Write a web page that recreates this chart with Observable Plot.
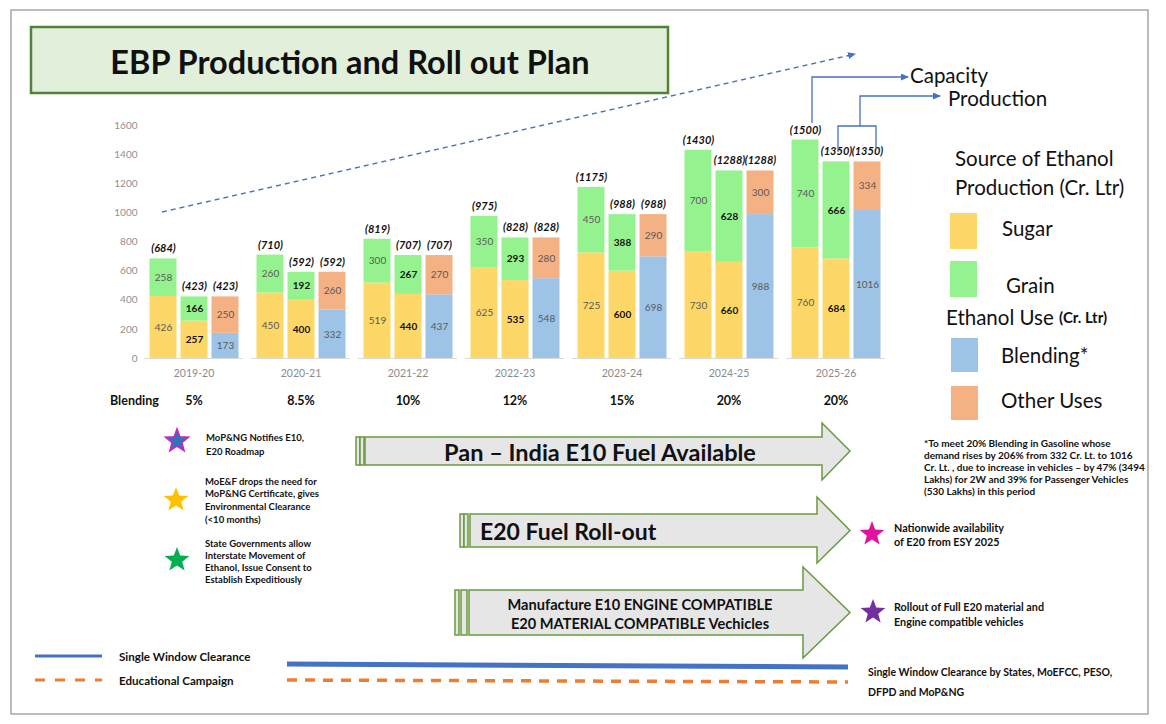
<!DOCTYPE html>
<html><head><meta charset="utf-8">
<script src="https://cdn.jsdelivr.net/npm/d3@7"></script>
<script src="https://cdn.jsdelivr.net/npm/@observablehq/plot@0.6"></script>
<style>
body{margin:0;background:#fff;}
#wrap{position:relative;width:1166px;height:724px;overflow:hidden;font-family:Lato,"Open Sans",sans-serif;background:#fff;}
#chart{position:absolute;left:0;top:0;}
#over{position:absolute;left:0;top:0;pointer-events:none;}
</style></head>
<body><div id="wrap"><div id="chart"></div><svg id="over" width="1166" height="724"></svg></div>
<script>
// ---------- data ----------
const years = ["2019-20","2020-21","2021-22","2022-23","2023-24","2024-25","2025-26"];
const capacitySugar   = [426, 450, 519, 625, 725, 730, 760];
const capacityGrain   = [258, 260, 300, 350, 450, 700, 740];
const productionSugar = [257, 400, 440, 535, 600, 660, 684];
const productionGrain = [166, 192, 267, 293, 388, 628, 666];
const useBlending     = [173, 332, 437, 548, 698, 988, 1016];
const useOther        = [250, 260, 270, 280, 290, 300, 334];
const blendingTarget  = ["5%","8.5%","10%","12%","15%","20%","20%"];
const yTicks = [0, 200, 400, 600, 800, 1000, 1200, 1400, 1600];
const parts = ["Sugar","Grain","Blending","Other Uses"];
const partColors = ["#FDD767","#95F38F","#9DC3E6","#F4B183"];
const barKinds = ["capacity","production","use"];

const rows = [];
const totals = [];
years.forEach((yr, i) => {
  rows.push({year: yr, bar: "capacity", part: "Sugar", value: capacitySugar[i]});
  rows.push({year: yr, bar: "capacity", part: "Grain", value: capacityGrain[i]});
  rows.push({year: yr, bar: "production", part: "Sugar", value: productionSugar[i]});
  rows.push({year: yr, bar: "production", part: "Grain", value: productionGrain[i]});
  rows.push({year: yr, bar: "use", part: "Blending", value: useBlending[i]});
  rows.push({year: yr, bar: "use", part: "Other Uses", value: useOther[i]});
  totals.push({year: yr, bar: "capacity", total: capacitySugar[i] + capacityGrain[i]});
  totals.push({year: yr, bar: "production", total: productionSugar[i] + productionGrain[i]});
  totals.push({year: yr, bar: "use", total: useBlending[i] + useOther[i]});
});
const pctRows = years.map((yr, i) => ({year: yr, pct: blendingTarget[i]}));

// ---------- chart ----------
const chart = Plot.plot({
  width: 920, height: 410,
  marginLeft: 143.5, marginRight: 34, marginTop: 125, marginBottom: 52,
  style: {fontFamily: "Lato, sans-serif", background: "transparent", overflow: "visible"},
  fx: {domain: years, paddingInner: 0.075, paddingOuter: 0, label: null},
  x: {domain: barKinds, padding: 0.14, axis: null},
  y: {domain: [0, 1600], label: null},
  color: {domain: parts, range: partColors},
  marks: [
    Plot.axisY({ticks: yTicks, tickFormat: d => String(d), tickSize: 0, tickPadding: 7, color: "#8f8f8f", fontSize: 10, label: null}),
    Plot.axisFx({anchor: "bottom", tickSize: 0, tickPadding: 11, color: "#8a8a8a", fontSize: 10.5, label: null}),
    Plot.ruleY([0], {stroke: "#d9d9d9"}),
    Plot.barY(rows, {fx: "year", x: "bar", y: "value", fill: "part"}),
    Plot.text(rows.filter(d => d.bar !== "production"),
      Plot.stackY({fx: "year", x: "bar", y: "value", text: d => String(d.value), fill: "#5a5a5a", fontSize: 10})),
    Plot.text(rows.filter(d => d.bar === "production"),
      Plot.stackY({fx: "year", x: "bar", y: "value", text: d => String(d.value), fill: "#111", fontWeight: "bold", fontSize: 10})),
    Plot.text(totals, {fx: "year", x: "bar", y: "total", text: d => `(${d.total})`, dy: -10,
      fontStyle: "italic", fontWeight: "bold", fontSize: 11, fill: "#111"}),
    Plot.text(pctRows, {fx: "year", text: "pct", frameAnchor: "bottom", lineAnchor: "middle", dy: 42,
      fontWeight: "bold", fontSize: 12.5, fill: "#111"})
  ]
});
document.getElementById("chart").appendChild(chart);

// ---------- overlay annotations ----------
const svg = d3.select("#over");
const defs = svg.append("defs");
defs.append("marker").attr("id", "arr").attr("viewBox", "0 0 8 7").attr("refX", 7).attr("refY", 3.5)
  .attr("markerWidth", 8).attr("markerHeight", 7).attr("markerUnits", "userSpaceOnUse").attr("orient", "auto")
  .append("path").attr("d", "M0,0L8,3.5L0,7Z").attr("fill", "#4472C4");

svg.append("rect").attr("x", 11).attr("y", 10).attr("width", 1137).attr("height", 704)
  .attr("fill", "none").attr("stroke", "#a6a6a6").attr("stroke-width", 1.5);
svg.append("rect").attr("x", 31).attr("y", 27).attr("width", 637).attr("height", 66)
  .attr("fill", "#E2EFDA").attr("stroke", "#538135").attr("stroke-width", 2.5);

function t(x, y, s, o = {}) {
  svg.append("text").attr("x", x).attr("y", y).attr("dominant-baseline", "central")
    .attr("text-anchor", o.anchor || "start").attr("font-size", o.size || 10)
    .attr("font-weight", o.weight || "normal").attr("fill", o.fill || "#111")
    .attr("font-family", "Lato, sans-serif").text(s);
}
t(350, 61, "EBP Production and Roll out Plan", {anchor: "middle", size: 32.5, weight: "bold"});

// blue trend & brackets
svg.append("line").attr("x1", 162).attr("y1", 212).attr("x2", 855).attr("y2", 54)
  .attr("stroke", "#4472C4").attr("stroke-width", 1.4).attr("stroke-dasharray", "5,4").attr("marker-end", "url(#arr)");
svg.append("path").attr("d", "M812,123V77H908").attr("fill", "none").attr("stroke", "#4472C4").attr("stroke-width", 1.3).attr("marker-end", "url(#arr)");
svg.append("path").attr("d", "M838,152V126H876V150").attr("fill", "none").attr("stroke", "#4472C4").attr("stroke-width", 1.3);
svg.append("path").attr("d", "M860,126V96H940").attr("fill", "none").attr("stroke", "#4472C4").attr("stroke-width", 1.3).attr("marker-end", "url(#arr)");
const L = 20.5;
t(910, 75, "Capacity", {size: L});
t(948, 98, "Production", {size: L});

// legend
t(955, 158, "Source of Ethanol", {size: L});
t(955, 187, "Production (Cr. Ltr)", {size: L});
const sw = [[950, 213, 0, "Sugar", 1002, 228], [950, 261, 1, "Grain", 1006, 285], [951, 338, 2, "Blending*", 1001, 355], [951, 386, 3, "Other Uses", 1001, 400]];
sw.forEach(([x, y, c, s, tx, ty]) => {
  svg.append("rect").attr("x", x).attr("y", y).attr("width", 27).attr("height", c < 2 ? 36 : 34).attr("fill", partColors[c]);
  t(tx, ty, s, {size: L});
});
const eu = svg.append("text").attr("x", 946).attr("y", 317).attr("dominant-baseline", "central")
  .attr("font-family", "Lato, sans-serif").attr("font-size", L).attr("fill", "#111");
eu.append("tspan").text("Ethanol Use ");
eu.append("tspan").attr("font-size", 15).attr("font-weight", "bold").text("(Cr. Ltr)");

t(110, 400, "Blending", {size: 12.5, weight: "bold"});

// stars
function star(cx, cy, R, fill, stroke) {
  const pts = [];
  for (let k = 0; k < 10; k++) {
    const r = k % 2 ? R * 0.42 : R;
    const a = -Math.PI / 2 + k * Math.PI / 5;
    pts.push([cx + r * Math.cos(a), cy + r * Math.sin(a)]);
  }
  svg.append("polygon").attr("points", pts.map(p => p.join(",")).join(" "))
    .attr("fill", fill).attr("stroke", stroke || "none").attr("stroke-width", 1.6);
}
star(177, 441, 12, "#2E75B6", "#CC22CC");
star(176, 500, 13, "#FFC000");
star(177, 560, 13, "#00B050");
star(872, 534, 13, "#E0139E");
star(873, 612, 13, "#7030A0");

const nb = {size: 9.5, weight: "bold"};
[["MoP&NG Notifies  E10,", 437], ["E20 Roadmap", 451]].forEach(([s, y]) => t(206, y, s, nb));
[["MoE&F drops the need for", 481], ["MoP&NG Certificate, gives", 493], ["Environmental Clearance", 506], ["(<10 months)", 519]].forEach(([s, y]) => t(205, y, s, nb));
[["State Governments allow", 543], ["Interstate Movement of", 555], ["Ethanol, Issue Consent to", 567], ["Establish Expeditiously", 579]].forEach(([s, y]) => t(205, y, s, nb));
[["*To meet 20% Blending in Gasoline whose", 443], ["demand rises by 206% from 332 Cr. Lt. to 1016", 455],
 ["Cr. Lt. , due to increase in vehicles \u2013 by 47% (3494", 467], ["Lakhs) for 2W and 39% for Passenger Vehicles", 479],
 ["(530 Lakhs) in this period", 491]].forEach(([s, y]) => t(924, y, s, {size: 10, weight: "bold"}));
[["Nationwide availability", 527], ["of E20 from ESY 2025", 541]].forEach(([s, y]) => t(894, y, s, {size: 10.8, weight: "bold"}));
[["Rollout of Full E20 material and", 606], ["Engine compatible vehicles", 621]].forEach(([s, y]) => t(894, y, s, {size: 10.8, weight: "bold"}));

// big arrows
function bigArrow(s1, s2, bx, hx, tip, bt, bb, ht, hb) {
  const my = (bt + bb) / 2;
  const g = svg.append("g").attr("fill", "#E7E6E6").attr("stroke", "#6A9A3F").attr("stroke-width", 1.5);
  g.append("rect").attr("x", s1[0]).attr("y", bt).attr("width", s1[1] - s1[0]).attr("height", bb - bt);
  g.append("rect").attr("x", s2[0]).attr("y", bt).attr("width", s2[1] - s2[0]).attr("height", bb - bt);
  g.append("polygon").attr("points", `${bx},${bt} ${hx},${bt} ${hx},${ht} ${tip},${my} ${hx},${hb} ${hx},${bb} ${bx},${bb}`);
}
bigArrow([356, 360], [360, 364], 365, 822, 850, 437, 465, 423, 480);
bigArrow([460, 464], [464, 468], 470, 817, 850, 514, 547, 497, 563);
bigArrow([455, 459], [461, 467], 469, 803, 850, 590, 635, 567, 658);
t(600, 452, "Pan \u2013 India E10 Fuel Available", {anchor: "middle", size: 23.5, weight: "bold"});
t(480, 531, "E20 Fuel Roll-out", {size: 23, weight: "bold"});
t(640, 604, "Manufacture E10 ENGINE COMPATIBLE", {anchor: "middle", size: 14.6, weight: "bold"});
t(640, 623, "E20 MATERIAL COMPATIBLE Vechicles", {anchor: "middle", size: 14.6, weight: "bold"});

// bottom lines
svg.append("line").attr("x1", 35).attr("y1", 656).attr("x2", 102).attr("y2", 656).attr("stroke", "#4472C4").attr("stroke-width", 3);
svg.append("line").attr("x1", 35).attr("y1", 680).attr("x2", 102).attr("y2", 680).attr("stroke", "#ED7D31").attr("stroke-width", 3).attr("stroke-dasharray", "10,10");
t(119, 656, "Single Window Clearance", {size: 11.6, weight: "bold"});
t(119, 680, "Educational Campaign", {size: 11.6, weight: "bold"});
svg.append("line").attr("x1", 287).attr("y1", 664).attr("x2", 848).attr("y2", 667).attr("stroke", "#4472C4").attr("stroke-width", 5);
svg.append("line").attr("x1", 287).attr("y1", 680).attr("x2", 848).attr("y2", 682).attr("stroke", "#ED7D31").attr("stroke-width", 3.5).attr("stroke-dasharray", "10,8");
t(868, 672, "Single Window Clearance by States, MoEFCC, PESO,", {size: 10.5, weight: "bold"});
t(868, 692, "DFPD and MoP&NG", {size: 10.5, weight: "bold"});
</script>
</body></html>
